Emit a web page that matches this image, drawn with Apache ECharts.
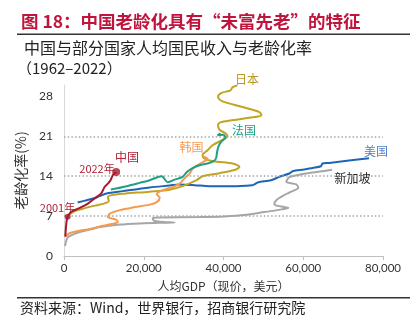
<!DOCTYPE html>
<html><head><meta charset="utf-8">
<script src="https://cdn.jsdelivr.net/npm/echarts@6/dist/echarts.min.js"></script>
<style>html,body{margin:0;padding:0;background:#fff}#c{width:413px;height:325px}</style>
</head><body><div id="c"></div>
<script>
// Data (GDP per capita, current USD ; aging rate %)
const chinaGdp   = [330, 500, 750, 920, 1830, 3500, 6000, 7670, 9330, 10170, 11000, 11670, 12250, 13080];
const chinaAging = [3.4, 5.1, 6.6, 6.9, 7.75, 8.3, 9.2, 10.1, 11.0, 12.1, 12.7, 13.3, 14.2, 14.75];
const china2001Index = 3;

const usaGdp   = [3425, 5250, 8175, 10675, 14750, 21500, 26500, 29000, 32750, 36500, 42250, 47250, 47750, 48575, 51925, 54000, 56500, 57325, 60250, 62325, 64425, 64825, 66500, 71500, 76500];
const usaAging = [9.4, 9.71, 10.27, 10.97, 11.38, 12.02, 12.37, 12.55, 12.43, 12.25, 12.25, 12.43, 12.55, 12.9, 13.3, 13.88, 14.47, 14.88, 15.17, 15.45, 15.75, 16.22, 16.33, 16.75, 17.15];

const japanGdp   = [1000, 2750, 5250, 7750, 10000, 11250, 11000, 12000, 15250, 21500, 26500, 29750, 33250, 34750, 39000, 43000, 44000, 42500, 37500, 35250, 34750, 36000, 37250, 39500, 41000, 40500, 39000, 38625, 39250, 42000, 46500, 49500, 49000, 44750, 39500, 38625, 39500, 41750, 42250, 43500];
const japanAging = [7.18, 7.88, 8.4, 8.84, 9.19, 9.63, 10.33, 10.68, 10.94, 11.29, 11.64, 12.25, 13.3, 14.0, 14.53, 15.14, 15.63, 16.19, 16.63, 17.1, 17.68, 18.55, 19.43, 20.3, 21.0, 21.53, 22.14, 22.93, 23.45, 23.8, 24.24, 24.68, 25.25, 26.13, 27.21, 27.91, 28.61, 29.05, 29.58, 29.93];

const franceGdp   = [11750, 15750, 19000, 21500, 24500, 26000, 27750, 29750, 30750, 32000, 34000, 36000, 37500, 38125, 38375, 38750, 39500, 40500, 40000, 38500, 39250];
const franceAging = [11.67, 12.25, 12.83, 13.3, 14.0, 12.95, 13.39, 13.88, 14.7, 15.35, 15.93, 16.22, 16.63, 17.15, 18.2, 19.25, 20.13, 20.74, 21.26, 21.18, 21.53];

const koreaGdp   = [250, 1500, 3500, 6500, 9000, 12000, 13500, 13000, 11000, 11500, 14000, 17250, 21500, 23250, 24000, 23250, 24750, 27250, 29000, 30250, 31500, 32250, 33500, 34750, 36000, 35000];
const koreaAging = [3.41, 4.03, 4.38, 4.73, 5.16, 5.6, 5.95, 6.39, 6.83, 7.44, 8.05, 8.49, 9.01, 9.45, 10.24, 10.85, 11.55, 12.08, 12.69, 13.65, 14.44, 15.31, 15.93, 16.45, 17.06, 17.41];

const singaporeGdp   = [250, 625, 1000, 2500, 4000, 6500, 9000, 14000, 19000, 24000, 27750, 24000, 22500, 22250, 24000, 34000, 40250, 45250, 50250, 53500, 56250, 54000, 52750, 53250, 55250, 57000, 58750, 58250, 55750, 56500, 59000, 61500, 65250, 67250];
const singaporeAging = [1.75, 2.8, 3.33, 3.85, 4.2, 4.64, 5.08, 5.51, 5.72, 5.83, 5.86, 6.0, 6.21, 6.65, 6.74, 6.83, 6.95, 7.18, 7.7, 8.05, 8.44, 8.75, 9.1, 9.8, 10.68, 11.29, 11.99, 12.55, 13.04, 13.83, 14.26, 14.58, 14.93, 15.14];

const yTicks = [0, 7, 14, 21, 28];
const refLines = [7, 14, 21];
const xTickStep = 20000;
const xMax = 80000;
const yMax = 30;

const zip = (a, b) => a.map((v, i) => [v, b[i]]);
const CJK = '"Noto Sans CJK SC", sans-serif';
const NUM = 'Lato, "Noto Sans CJK SC", sans-serif';

const chart = echarts.init(document.getElementById('c'), null, {renderer: 'canvas'});

function lineSeries(name, gdp, aging, color, z) {
  return {
    name, type: 'line', data: zip(gdp, aging), showSymbol: false, symbol: 'none',
    smooth: 0.3, z, lineStyle: {color, width: 2}, itemStyle: {color}, silent: true
  };
}

const series = [
  Object.assign(lineSeries('新加坡', singaporeGdp, singaporeAging, '#A6A6A6', 2), {
    markLine: {
      silent: true, symbol: 'none', label: {show: false},
      lineStyle: {color: '#A6A6A6', type: [1.5, 2.2], width: 1.5},
      data: refLines.map(v => ({yAxis: v}))
    }
  }),
  lineSeries('美国', usaGdp, usaAging, '#1F64B5', 3),
  lineSeries('日本', japanGdp, japanAging, '#C2A424', 4),
  lineSeries('韩国', koreaGdp, koreaAging, '#F79A4E', 5),
  lineSeries('法国', franceGdp, franceAging, '#1FA085', 6),
  lineSeries('中国', chinaGdp, chinaAging, '#A6192E', 7),
  {
    name: '中国标记', type: 'scatter', z: 8, silent: true,
    data: [
      {value: [chinaGdp[china2001Index], chinaAging[china2001Index]], symbolSize: 6},
      {value: [chinaGdp[chinaGdp.length - 1], chinaAging[chinaAging.length - 1]], symbolSize: 8}
    ],
    itemStyle: {color: '#A6192E'}
  }
];

const txt = (text, x, y, color, size, extra) => ({
  type: 'text', x, y, silent: true,
  style: Object.assign({text, fill: color, font: `${size}px ${CJK}`, textAlign: 'center', textVerticalAlign: 'middle'}, extra || {})
});

chart.setOption({
  animation: false,
  grid: {left: 64, right: 30, top: 85, bottom: 69},
  xAxis: {
    type: 'value', min: 0, max: xMax, interval: xTickStep,
    name: '人均GDP（现价，美元）', nameLocation: 'middle', nameGap: 24,
    nameTextStyle: {fontFamily: CJK, fontSize: 12, color: '#333'},
    axisLine: {show: true, lineStyle: {color: '#BFBFBF', width: 1}},
    axisTick: {show: true, length: 4, lineStyle: {color: '#BFBFBF'}},
    axisLabel: {fontFamily: NUM, fontSize: 11.5, color: '#333', margin: 7,
      formatter: v => v.toLocaleString('en-US')},
    splitLine: {show: false}
  },
  yAxis: {
    type: 'value', min: 0, max: yMax, interval: 7,
    name: '老龄化率(%)', nameLocation: 'middle', nameGap: 30, nameRotate: 90,
    nameTextStyle: {fontFamily: CJK, fontSize: 14, color: '#333'},
    axisLine: {show: true, lineStyle: {color: '#D9D9D9', width: 1}},
    axisTick: {show: false},
    axisLabel: {fontFamily: NUM, fontSize: 12, color: '#333', margin: 11, showMaxLabel: false,
      formatter: v => (yTicks.indexOf(v) >= 0 ? String(v) : '')},
    splitLine: {show: false}
  },
  series,
  graphic: [
    {type: 'text', left: 21, top: 13, silent: true,
     style: {text: '图 18：中国老龄化具有“未富先老”的特征', fill: '#C0143C', font: `bold 17.5px ${CJK}`}},
    {type: 'rect', shape: {x: 17, y: 33.5, width: 393, height: 1.5}, style: {fill: '#333'}, silent: true},
    {type: 'text', left: 24, top: 40, silent: true,
     style: {text: '中国与部分国家人均国民收入与老龄化率', fill: '#222', font: `16px ${CJK}`}},
    {type: 'text', left: 17, top: 61, silent: true,
     style: {text: '（1962–2022）', fill: '#222', font: `15px ${CJK}`}},
    {type: 'rect', shape: {x: 17, y: 297, width: 393, height: 1.5}, style: {fill: '#333'}, silent: true},
    {type: 'text', left: 20, top: 301, silent: true,
     style: {text: '资料来源：Wind，世界银行，招商银行研究院', fill: '#222', font: `14px ${CJK}`}},
    txt('日本', 247, 79, '#B8982A', 12),
    txt('法国', 244, 130, '#1FA085', 12),
    txt('韩国', 191.5, 147, '#F79A4E', 12),
    txt('美国', 376, 151, '#4F81C4', 12),
    txt('新加坡', 352.5, 178, '#222', 12),
    txt('中国', 127, 157, '#B22035', 12),
    txt('2022年', 97, 169, '#B22035', 11),
    txt('2001年', 57.5, 208, '#B22035', 11)
  ]
});
</script></body></html>
